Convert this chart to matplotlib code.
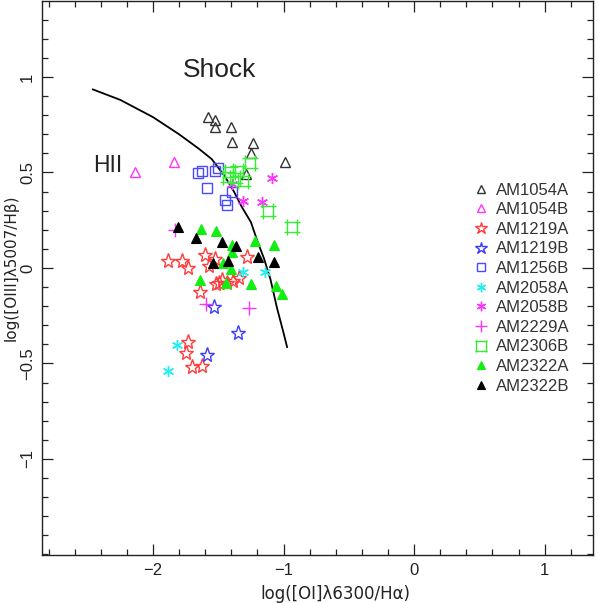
import matplotlib
matplotlib.use("Agg")
import matplotlib.pyplot as plt
from matplotlib.path import Path
from matplotlib.ticker import MultipleLocator

plt.rcParams['font.family'] = ['Liberation Sans', 'DejaVu Sans']

# ---------------- data ----------------
am1054a_x = [-1.579, -1.525, -1.525, -1.402, -1.395, -1.234, -1.249, -0.989, -1.287]
am1054a_y = [0.791, 0.775, 0.738, 0.738, 0.660, 0.654, 0.602, 0.555, 0.492]

am1054b_x = [-2.138, -1.839]
am1054b_y = [0.503, 0.555]

am1219a_x = [-1.885, -1.778, -1.732, -1.602, -1.525, -1.571, -1.280, -1.471, -1.494,
             -1.517, -1.433, -1.387, -1.341, -1.640, -1.732, -1.747, -1.701, -1.625]
am1219a_y = [0.037, 0.037, 0.000, 0.068, 0.047, 0.010, 0.058, -0.063, -0.079,
             -0.084, -0.079, -0.068, -0.052, -0.126, -0.387, -0.445, -0.518, -0.513]

am1219b_x = [-1.533, -1.349, -1.586]
am1219b_y = [-0.204, -0.340, -0.455]

am1256b_x = [-1.655, -1.625, -1.525, -1.502, -1.586, -1.395, -1.448, -1.433]
am1256b_y = [0.497, 0.508, 0.508, 0.524, 0.419, 0.398, 0.356, 0.330]

am2058a_x = [-1.310, -1.142, -1.816, -1.885]
am2058a_y = [-0.021, -0.021, -0.403, -0.539]

am2058b_x = [-1.088, -1.395, -1.310, -1.165]
am2058b_y = [0.471, 0.440, 0.351, 0.346]

am2229a_x = [-1.831, -1.594, -1.264]
am2229a_y = [0.199, -0.188, -0.209]

am2306b_x = [-1.257, -1.410, -1.349, -1.425, -1.372, -1.310, -1.119, -0.935]
am2306b_y = [0.550, 0.503, 0.508, 0.476, 0.471, 0.455, 0.298, 0.215]

am2322a_x = [-1.632, -1.517, -1.395, -1.395, -1.218, -1.073, -1.464, -1.402,
             -1.640, -1.441, -1.249, -1.057, -1.011]
am2322a_y = [0.204, 0.194, 0.120, 0.084, 0.141, 0.120, 0.026, -0.005,
             -0.063, -0.079, -0.084, -0.094, -0.136]

am2322b_x = [-1.808, -1.670, -1.471, -1.364, -1.540, -1.425, -1.195, -1.073]
am2322b_y = [0.215, 0.157, 0.136, 0.115, 0.026, 0.037, 0.058, 0.031]

# demarcation curve
curve_x = [-2.46, -2.25, -2.0, -1.8, -1.65, -1.55, -1.45, -1.38, -1.32, -1.25,
           -1.2, -1.15, -1.1, -1.05, -1.0, -0.973]
curve_y = [0.935, 0.88, 0.79, 0.70, 0.625, 0.57, 0.48, 0.40, 0.32, 0.24,
           0.14, 0.05, -0.06, -0.21, -0.34, -0.414]

x_ticks = [-2, -1, 0, 1]
y_ticks = [-1, -0.5, 0, 0.5, 1]
y_tick_labels = ['\u22121', '\u22120.5', '0', '0.5', '1']
x_tick_labels = ['\u22122', '\u22121', '0', '1']

# ---------------- figure ----------------
fig = plt.figure(figsize=(5.98, 6.03), dpi=100)
ax = fig.add_axes([42/598, (603-555)/603, (593-42)/598, (555-1)/603])
ax.set_xlim(-2.85, 1.37)
ax.set_ylim(-1.503, 1.398)

frame_col = '#222222'
for s in ax.spines.values():
    s.set_color(frame_col)
    s.set_linewidth(1.0)

# custom "square with extended sides" marker
ext = 1.4
box_path = Path(
    [(-1, -ext), (-1, ext), (1, -ext), (1, ext),
     (-ext, -1), (ext, -1), (-ext, 1), (ext, 1)],
    [Path.MOVETO, Path.LINETO] * 4)

ax.plot(curve_x, curve_y, color='black', lw=1.3, zorder=2)

series = [
    (am1054a_x, am1054a_y, 'AM1054A', dict(marker='^', ms=7, mfc='none', mec='#333333', mew=1.0)),
    (am1054b_x, am1054b_y, 'AM1054B', dict(marker='^', ms=7, mfc='none', mec='#ff33ff', mew=1.0)),
    (am1219a_x, am1219a_y, 'AM1219A', dict(marker='*', ms=11, mfc='none', mec='#ff3b3b', mew=1.0)),
    (am1219b_x, am1219b_y, 'AM1219B', dict(marker='*', ms=11, mfc='none', mec='#3b3bff', mew=1.0)),
    (am1256b_x, am1256b_y, 'AM1256B', dict(marker='s', ms=6.5, mfc='none', mec='#4a4aff', mew=1.0)),
    (am2058a_x, am2058a_y, 'AM2058A', dict(marker=(6, 2, 0), ms=8, mfc='none', mec='#22eeee', mew=1.0)),
    (am2058b_x, am2058b_y, 'AM2058B', dict(marker=(6, 2, 0), ms=8, mfc='none', mec='#ff33ff', mew=1.0)),
    (am2229a_x, am2229a_y, 'AM2229A', dict(marker='+', ms=10, mfc='none', mec='#ff33ff', mew=1.0)),
    (am2306b_x, am2306b_y, 'AM2306B', dict(marker=box_path, ms=11, mfc='none', mec='#33ee33', mew=1.0)),
    (am2322a_x, am2322a_y, 'AM2322A', dict(marker='^', ms=7, mfc='#11ee11', mec='#11ee11', mew=0.8)),
    (am2322b_x, am2322b_y, 'AM2322B', dict(marker='^', ms=7, mfc='black', mec='black', mew=0.8)),
]

handles = []
for xs, ys, lab, st in series:
    h, = ax.plot(xs, ys, ls='none', label=lab, zorder=3, **st)
    handles.append(h)

leg = ax.legend(handles=handles, loc='upper left', bbox_to_anchor=(0.785, 0.672),
                frameon=False, fontsize=12, handlelength=0.8, handletextpad=0.5,
                labelspacing=0.275, borderaxespad=0, borderpad=0, markerscale=0.85)
for t in leg.get_texts():
    t.set_color('#333333')

ax.text(-1.487, 1.037, 'Shock', fontsize=19, color='#222222', ha='center', va='center')
ax.text(-2.345, 0.539, 'HII', fontsize=16.5, color='#222222', ha='center', va='center')

# ticks
ax.xaxis.set_minor_locator(MultipleLocator(0.2))
ax.yaxis.set_minor_locator(MultipleLocator(0.1))
ax.set_xticks(x_ticks)
ax.set_xticklabels(x_tick_labels)
ax.set_yticks(y_ticks)
ax.set_yticklabels(y_tick_labels, rotation=90, va='center')
ax.tick_params(which='both', direction='in', top=True, right=True, colors=frame_col,
               labelcolor='#222222', labelsize=12, width=0.9)
ax.tick_params(which='major', length=8, pad=6)
ax.tick_params(which='minor', length=4)
ax.tick_params(axis='y', which='major', pad=5)

ax.set_xlabel('log([OI]\u03bb6300/H\u03b1)', fontsize=12, color='#222222', labelpad=5,
              family=['DejaVu Sans'])
ax.set_ylabel('log([OIII]\u03bb5007/H\u03b2)', fontsize=11, color='#222222', labelpad=1,
              family=['DejaVu Sans'])
ax.xaxis.label.set_x((335 - 42) / 551)
ax.yaxis.label.set_y((555 - 268) / 554)

fig.savefig('out.png', dpi=100)
